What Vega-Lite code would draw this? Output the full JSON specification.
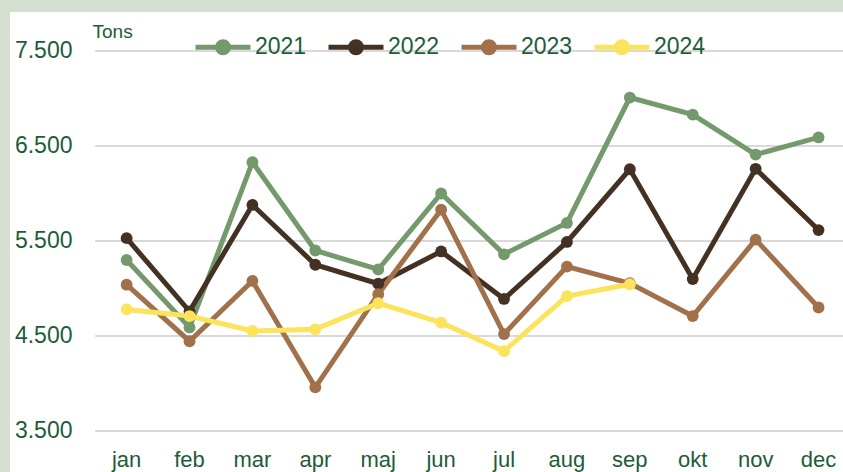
{
  "$schema": "https://vega.github.io/schema/vega-lite/v6.json",
  "autosize": "none",
  "width": 840,
  "height": 460,
  "padding": {"left": 10, "top": 12, "right": 0, "bottom": 0},
  "background": "#d4dfcf",
  "config": {
    "view": {"fill": "white", "stroke": null},
    "font": "Liberation Sans"
  },
  "datasets": {
    "grid": [{"g": 3500}, {"g": 4500}, {"g": 5500}, {"g": 6500}, {"g": 7500}],
    "tons": [
      {"month": "jan", "year": "2021", "tons": 5300},
      {"month": "feb", "year": "2021", "tons": 4590},
      {"month": "mar", "year": "2021", "tons": 6330},
      {"month": "apr", "year": "2021", "tons": 5400},
      {"month": "maj", "year": "2021", "tons": 5200},
      {"month": "jun", "year": "2021", "tons": 6000},
      {"month": "jul", "year": "2021", "tons": 5360},
      {"month": "aug", "year": "2021", "tons": 5690},
      {"month": "sep", "year": "2021", "tons": 7010},
      {"month": "okt", "year": "2021", "tons": 6830},
      {"month": "nov", "year": "2021", "tons": 6410},
      {"month": "dec", "year": "2021", "tons": 6590},
      {"month": "jan", "year": "2022", "tons": 5530},
      {"month": "feb", "year": "2022", "tons": 4760},
      {"month": "mar", "year": "2022", "tons": 5880},
      {"month": "apr", "year": "2022", "tons": 5250},
      {"month": "maj", "year": "2022", "tons": 5050},
      {"month": "jun", "year": "2022", "tons": 5390},
      {"month": "jul", "year": "2022", "tons": 4890},
      {"month": "aug", "year": "2022", "tons": 5490},
      {"month": "sep", "year": "2022", "tons": 6255},
      {"month": "okt", "year": "2022", "tons": 5100},
      {"month": "nov", "year": "2022", "tons": 6260},
      {"month": "dec", "year": "2022", "tons": 5615},
      {"month": "jan", "year": "2023", "tons": 5040},
      {"month": "feb", "year": "2023", "tons": 4445},
      {"month": "mar", "year": "2023", "tons": 5080},
      {"month": "apr", "year": "2023", "tons": 3960},
      {"month": "maj", "year": "2023", "tons": 4940},
      {"month": "jun", "year": "2023", "tons": 5830},
      {"month": "jul", "year": "2023", "tons": 4520},
      {"month": "aug", "year": "2023", "tons": 5230},
      {"month": "sep", "year": "2023", "tons": 5055},
      {"month": "okt", "year": "2023", "tons": 4710},
      {"month": "nov", "year": "2023", "tons": 5515},
      {"month": "dec", "year": "2023", "tons": 4800},
      {"month": "jan", "year": "2024", "tons": 4780},
      {"month": "feb", "year": "2024", "tons": 4710},
      {"month": "mar", "year": "2024", "tons": 4553},
      {"month": "apr", "year": "2024", "tons": 4570},
      {"month": "maj", "year": "2024", "tons": 4845},
      {"month": "jun", "year": "2024", "tons": 4640},
      {"month": "jul", "year": "2024", "tons": 4340},
      {"month": "aug", "year": "2024", "tons": 4920},
      {"month": "sep", "year": "2024", "tons": 5045}
    ]
  },
  "layer": [
    {
      "data": {"name": "grid"},
      "mark": {"type": "rule", "color": "#d9d9d9", "strokeWidth": 2},
      "encoding": {
        "y": {"field": "g", "type": "quantitative"},
        "x": {"datum": "jan", "type": "ordinal", "bandPosition": 0},
        "x2": {"datum": "dec", "bandPosition": 1}
      }
    },
    {
      "data": {"name": "tons"},
      "mark": {
        "type": "line",
        "strokeWidth": 5,
        "point": {"filled": true, "size": 140, "opacity": 1}
      },
      "encoding": {
        "x": {
          "field": "month",
          "type": "ordinal",
          "sort": ["jan", "feb", "mar", "apr", "maj", "jun", "jul", "aug", "sep", "okt", "nov", "dec"],
          "scale": {"type": "band", "paddingInner": 0, "paddingOuter": 0.677, "align": 1},
          "axis": {
            "orient": "bottom",
            "title": null,
            "domain": false,
            "ticks": false,
            "tickSize": 0,
            "grid": false,
            "labelAngle": 0,
            "labelAlign": "center",
            "labelOffset": 0,
            "labelPadding": -6,
            "labelBaseline": "alphabetic",
            "labelFontSize": 22,
            "labelColor": "#1d5c38",
            "labelFont": "Liberation Sans"
          }
        },
        "y": {
          "field": "tons",
          "type": "quantitative",
          "scale": {"domain": [3068.4, 7910.5], "nice": false, "zero": false},
          "axis": {
            "orient": "left",
            "values": [3500, 4500, 5500, 6500, 7500],
            "labelExpr": "replace(format(datum.value, ','), ',', '.')",
            "grid": false,
            "domain": false,
            "ticks": false,
            "tickSize": 0,
            "labelPadding": -62,
            "labelFontSize": 23,
            "labelColor": "#1d5c38",
            "labelFont": "Liberation Sans",
            "title": "Tons",
            "titleAngle": 0,
            "titleX": 82,
            "titleY": 19,
            "titleAlign": "left",
            "titleBaseline": "middle",
            "titleFontSize": 19,
            "titleFontWeight": "normal",
            "titleColor": "#1d5c38",
            "titleFont": "Liberation Sans"
          }
        },
        "color": {
          "field": "year",
          "type": "nominal",
          "scale": {
            "domain": ["2021", "2022", "2023", "2024"],
            "range": ["#74996c", "#433224", "#a0714b", "#fbe35c"]
          },
          "legend": {
            "orient": "none",
            "direction": "horizontal",
            "legendX": 183,
            "legendY": 5,
            "title": null,
            "symbolType": "M-1,0L1,0M0.2,0A0.2,0.2,0,1,1,-0.2,0A0.2,0.2,0,1,1,0.2,0",
            "symbolSize": 3025,
            "symbolStrokeWidth": 5,
            "symbolOpacity": 1,
            "labelFontSize": 23,
            "labelColor": "#1d5c38",
            "labelFont": "Liberation Sans",
            "labelOffset": 2,
            "columnPadding": 11,
            "encode": {
              "symbols": {
                "update": {
                  "fill": {"scale": "color", "field": "value"},
                  "stroke": {"scale": "color", "field": "value"}
                }
              }
            }
          }
        }
      }
    }
  ]
}
